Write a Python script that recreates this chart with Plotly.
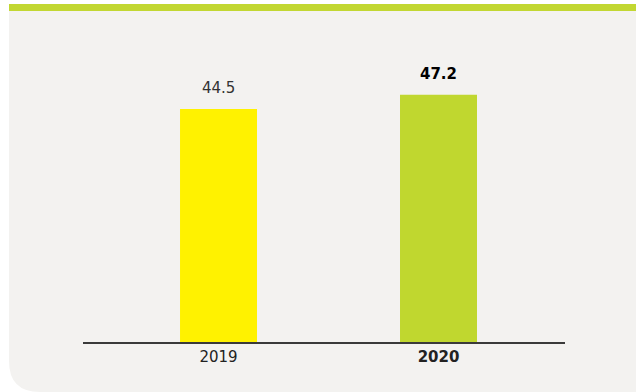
import plotly.graph_objects as go

years = ["2019", "2020"]
values = [44.5, 47.2]
bar_colors = ["#fff200", "#c0d72f"]
label_text = ["44.5", "<b>47.2</b>"]
tick_text = ["2019", "<b>2020</b>"]

W, H = 636, 392
L, R, T, B = 83, 71, 30, 50
pw, ph = W - L - R, H - T - B

def px(x):
    return (x - L) / pw

def py(y):
    return (H - B - y) / ph

xpos = list(range(len(years)))

fig = go.Figure()
fig.add_trace(go.Bar(
    x=xpos, y=values, marker=dict(color=bar_colors, line=dict(width=0)),
    width=0.35, hoverinfo="skip",
))

for xi, v, t in zip(xpos, values, label_text):
    fig.add_annotation(x=xi, y=v, text=t, showarrow=False, yanchor="middle",
                       yshift=21, font=dict(family="DejaVu Sans", size=15,
                       color="#000000" if "<b>" in t else "#333333"))

panel = (f"M {px(9)},{py(4)} L {px(636)},{py(4)} L {px(636)},{py(392)} "
         f"L {px(40)},{py(392)} Q {px(9)},{py(392)} {px(9)},{py(361)} Z")
fig.add_shape(type="path", path=panel, xref="paper", yref="paper",
              fillcolor="#f3f2f0", line=dict(width=0), layer="below")
fig.add_shape(type="rect", xref="paper", yref="paper",
              x0=px(9), x1=px(636), y0=py(11), y1=py(4),
              fillcolor="#c2d732", line=dict(width=0), layer="below")

fig.update_layout(
    width=W, height=H, margin=dict(l=L, r=R, t=T, b=B),
    paper_bgcolor="white", plot_bgcolor="rgba(0,0,0,0)",
    showlegend=False,
    xaxis=dict(range=[-0.616, 1.575], tickvals=xpos, ticktext=tick_text,
               showline=True, linecolor="#3a3a3a", linewidth=1.5,
               showgrid=False, zeroline=False, ticks="",
               tickfont=dict(family="DejaVu Sans", size=15, color="#222222")),
    yaxis=dict(range=[0, 312 / 5.236], visible=False, showgrid=False, zeroline=False),
)

fig.write_html("out.html")
